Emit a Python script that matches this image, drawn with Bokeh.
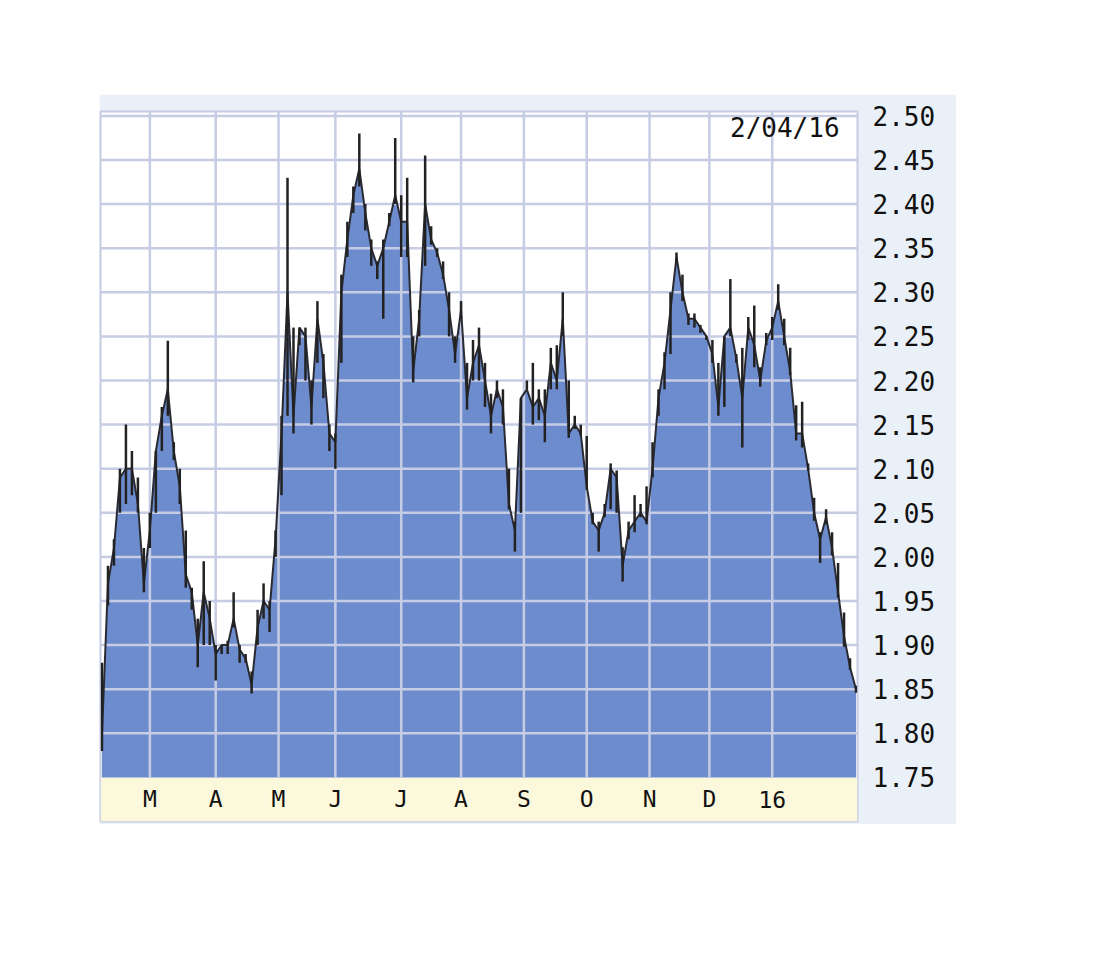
from bokeh.plotting import figure
from bokeh.models import Range1d, FixedTicker, NumeralTickFormatter, BoxAnnotation, Label, Spacer
from bokeh.layouts import column, row
from bokeh.embed import file_html
from bokeh.resources import INLINE
from bokeh.core.properties import value

# ---- data (trading-day index, every 2nd session, Feb 2015 .. 2/04/16) ----
days = list(range(0, 253, 2))
close = [1.80, 1.97, 2.01, 2.09, 2.10, 2.10, 2.06, 1.97, 2.03, 2.12,
         2.16, 2.19, 2.12, 2.08, 1.98, 1.96, 1.90, 1.96, 1.93, 1.89,
         1.90, 1.90, 1.93, 1.895, 1.885, 1.855, 1.92, 1.95, 1.94, 2.02,
         2.14, 2.30, 2.16, 2.26, 2.25, 2.17, 2.27, 2.22, 2.14, 2.13,
         2.30, 2.36, 2.41, 2.44, 2.39, 2.35, 2.33, 2.35, 2.38, 2.41,
         2.38, 2.38, 2.21, 2.27, 2.40, 2.36, 2.345, 2.32, 2.28, 2.23,
         2.28, 2.18, 2.22, 2.24, 2.20, 2.16, 2.19, 2.17, 2.06, 2.03,
         2.18, 2.19, 2.17, 2.18, 2.16, 2.22, 2.20, 2.27, 2.14, 2.15,
         2.14, 2.08, 2.04, 2.03, 2.05, 2.10, 2.09, 1.99, 2.03, 2.04,
         2.05, 2.04, 2.10, 2.18, 2.22, 2.28, 2.34, 2.30, 2.27, 2.27,
         2.26, 2.25, 2.23, 2.17, 2.25, 2.26, 2.225, 2.18, 2.26, 2.24,
         2.20, 2.245, 2.26, 2.29, 2.25, 2.21, 2.14, 2.14, 2.10, 2.05,
         2.02, 2.045, 2.01, 1.96, 1.91, 1.875, 1.85]
high = [1.88, 1.99, 2.02, 2.10, 2.15, 2.12, 2.09, 2.01, 2.05, 2.12,
        2.17, 2.245, 2.13, 2.10, 2.03, 1.965, 1.93, 1.995, 1.95, 1.90,
        1.90, 1.905, 1.96, 1.90, 1.89, 1.87, 1.94, 1.97, 1.95, 2.03,
        2.16, 2.43, 2.26, 2.26, 2.26, 2.20, 2.29, 2.23, 2.15, 2.14,
        2.32, 2.38, 2.42, 2.48, 2.40, 2.36, 2.335, 2.36, 2.39, 2.475,
        2.41, 2.43, 2.25, 2.28, 2.455, 2.375, 2.35, 2.335, 2.30, 2.25,
        2.29, 2.22, 2.246, 2.26, 2.22, 2.185, 2.20, 2.19, 2.10, 2.04,
        2.18, 2.20, 2.22, 2.19, 2.19, 2.237, 2.24, 2.30, 2.20, 2.16,
        2.15, 2.137, 2.05, 2.04, 2.06, 2.106, 2.098, 2.011, 2.04, 2.07,
        2.06, 2.08, 2.13, 2.19, 2.232, 2.30, 2.345, 2.32, 2.276, 2.276,
        2.263, 2.25, 2.246, 2.22, 2.25, 2.315, 2.23, 2.237, 2.272, 2.285,
        2.215, 2.254, 2.272, 2.309, 2.27, 2.237, 2.172, 2.176, 2.106, 2.067,
        2.028, 2.054, 2.028, 1.993, 1.937, 1.885, 1.854]
low = [1.78, 1.945, 1.99, 2.05, 2.06, 2.07, 2.05, 1.96, 2.01, 2.05,
       2.12, 2.16, 2.11, 2.06, 1.965, 1.94, 1.875, 1.90, 1.90, 1.86,
       1.89, 1.89, 1.92, 1.88, 1.88, 1.845, 1.90, 1.93, 1.915, 2.00,
       2.07, 2.16, 2.14, 2.24, 2.20, 2.15, 2.22, 2.18, 2.12, 2.10,
       2.22, 2.34, 2.39, 2.42, 2.37, 2.33, 2.315, 2.27, 2.375, 2.40,
       2.34, 2.34, 2.198, 2.25, 2.33, 2.354, 2.34, 2.315, 2.25, 2.22,
       2.27, 2.167, 2.20, 2.20, 2.17, 2.14, 2.18, 2.15, 2.054, 2.006,
       2.05, 2.19, 2.15, 2.155, 2.13, 2.19, 2.19, 2.25, 2.135, 2.145,
       2.137, 2.076, 2.037, 2.006, 2.045, 2.054, 2.05, 1.972, 2.02, 2.028,
       2.045, 2.037, 2.09, 2.16, 2.19, 2.23, 2.333, 2.29, 2.263, 2.26,
       2.254, 2.246, 2.22, 2.16, 2.17, 2.25, 2.22, 2.124, 2.246, 2.215,
       2.193, 2.24, 2.246, 2.28, 2.24, 2.206, 2.132, 2.124, 2.098, 2.041,
       1.993, 2.037, 2.002, 1.954, 1.898, 1.872, 1.846]
month_pos = [16, 38, 59, 78, 100, 120, 141, 162, 183, 203, 224]
month_labels = ["M", "A", "M", "J", "J", "A", "S", "O", "N", "D", "16"]
price_ticks = [1.75, 1.80, 1.85, 1.90, 1.95, 2.00, 2.05, 2.10, 2.15,
               2.20, 2.25, 2.30, 2.35, 2.40, 2.45, 2.50]
date_text = "2/04/16"

Y_MIN = 1.75
Y_MAX = 2.505
BAND = 0.05
X0, X1 = -0.5, 252.5
MONO = "DejaVu Sans Mono"

p = figure(width=857, height=730, output_backend="svg", toolbar_location=None,
           x_range=Range1d(X0, X1), y_range=Range1d(Y_MIN - BAND, Y_MAX),
           x_axis_location=None, y_axis_location="right",
           min_border_left=1, min_border_right=99, min_border_top=17, min_border_bottom=3,
           background_fill_color="white", border_fill_color="#eaf0f8",
           outline_line_color="#c5cbe3", outline_line_width=2)
p.grid.visible = False

yax = p.yaxis[0]
yax.ticker = FixedTicker(ticks=price_ticks)
yax.formatter = NumeralTickFormatter(format="0.00")
yax.axis_line_color = None
yax.major_tick_line_color = None
yax.minor_tick_line_color = None
yax.major_label_standoff = 9
yax.major_label_text_font = MONO
yax.major_label_text_font_size = "26px"
yax.major_label_text_color = "#111111"

# month band
p.add_layout(BoxAnnotation(top=Y_MIN, fill_color="#fcf8dc", fill_alpha=1.0,
                           line_color=None, level="underlay"))

# area
p.varea(x=days, y1=Y_MIN, y2=close, fill_color="#6d8cce")

# grid
p.segment(x0=X0, x1=X1, y0=price_ticks[1:], y1=price_ticks[1:],
          line_color="#c6cce4", line_width=2.5)
p.segment(x0=month_pos, x1=month_pos, y0=Y_MIN, y1=Y_MAX,
          line_color="#c6cce4", line_width=2.5)

# outline along close and high-low bars
p.line(x=days, y=close, line_color="#2a2a33", line_width=2)
p.segment(x0=days, x1=days, y0=low, y1=high, line_color="#222222", line_width=2.5)

# month labels
p.text(x=month_pos, y=[Y_MIN - BAND / 2] * len(month_pos), text=month_labels,
       text_align="center", text_baseline="middle",
       text_font=value(MONO), text_font_size="23px", text_color="#111111")

p.add_layout(Label(x=246.5, y=2.486, text=date_text, text_align="right",
                   text_baseline="middle", text_font=MONO,
                   text_font_size="26px", text_color="#111111"))

layout = column(Spacer(height=94), row(Spacer(width=99), p))
open("out.html", "w").write(file_html(layout, INLINE))
